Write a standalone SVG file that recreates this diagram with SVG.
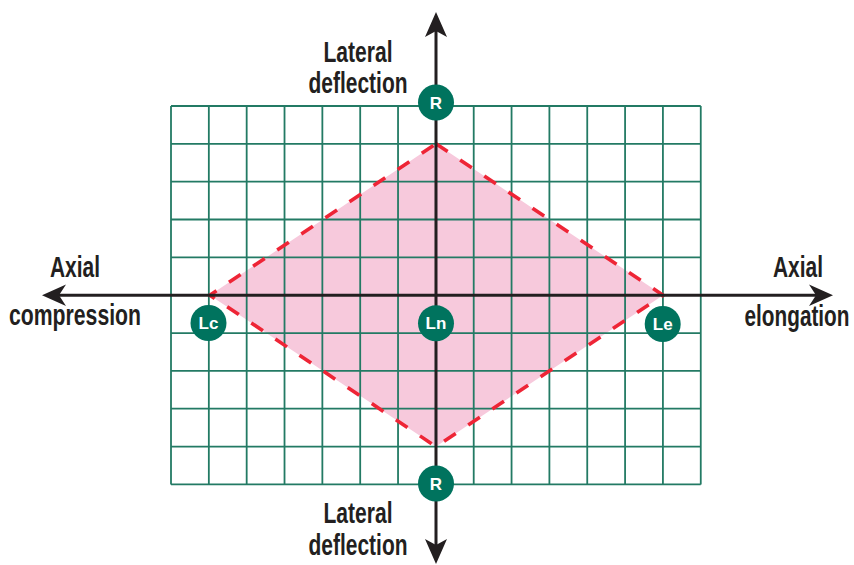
<svg xmlns="http://www.w3.org/2000/svg" width="854" height="565" viewBox="0 0 854 565">
<style>
.grid line{stroke:#237a64;stroke-width:1.8}
.axis{stroke:#231f20;stroke-width:3;fill:none}
.head{fill:#231f20}
.lbl{font-family:"Liberation Sans",Arial,sans-serif;font-weight:bold;font-size:29px;fill:#231f20;text-anchor:middle}
.node circle{fill:#00735e}
.node text{font-family:"Liberation Sans",Arial,sans-serif;font-weight:bold;font-size:17px;fill:#ffffff;text-anchor:middle}
</style>
<rect width="854" height="565" fill="#ffffff"/>
<polygon id="region" points="436,143.8 663,295.2 436,446.6 209.8,295.2" fill="#f7c9dc"/>
<g class="grid" id="grid">
<line x1="171" y1="106" x2="171" y2="484.4"/>
<line x1="208.84" y1="106" x2="208.84" y2="484.4"/>
<line x1="246.68" y1="106" x2="246.68" y2="484.4"/>
<line x1="284.52" y1="106" x2="284.52" y2="484.4"/>
<line x1="322.36" y1="106" x2="322.36" y2="484.4"/>
<line x1="360.2" y1="106" x2="360.2" y2="484.4"/>
<line x1="398.04" y1="106" x2="398.04" y2="484.4"/>
<line x1="435.88" y1="106" x2="435.88" y2="484.4"/>
<line x1="473.72" y1="106" x2="473.72" y2="484.4"/>
<line x1="511.56" y1="106" x2="511.56" y2="484.4"/>
<line x1="549.4" y1="106" x2="549.4" y2="484.4"/>
<line x1="587.24" y1="106" x2="587.24" y2="484.4"/>
<line x1="625.08" y1="106" x2="625.08" y2="484.4"/>
<line x1="662.92" y1="106" x2="662.92" y2="484.4"/>
<line x1="700.76" y1="106" x2="700.76" y2="484.4"/>
<line x1="171" y1="106" x2="700.76" y2="106"/>
<line x1="171" y1="143.84" x2="700.76" y2="143.84"/>
<line x1="171" y1="181.68" x2="700.76" y2="181.68"/>
<line x1="171" y1="219.52" x2="700.76" y2="219.52"/>
<line x1="171" y1="257.36" x2="700.76" y2="257.36"/>
<line x1="171" y1="295.2" x2="700.76" y2="295.2"/>
<line x1="171" y1="333.04" x2="700.76" y2="333.04"/>
<line x1="171" y1="370.88" x2="700.76" y2="370.88"/>
<line x1="171" y1="408.72" x2="700.76" y2="408.72"/>
<line x1="171" y1="446.56" x2="700.76" y2="446.56"/>
<line x1="171" y1="484.4" x2="700.76" y2="484.4"/>
</g>
<polygon id="envelope" points="436,143.8 663,295.2 436,446.6 209.8,295.2" fill="none" stroke="#ee2536" stroke-width="3.6" stroke-dasharray="14,15"/>
<g id="connectors">
<line class="axis" x1="58" y1="295.2" x2="820" y2="295.2"/>
<line class="axis" x1="436" y1="30" x2="436" y2="550"/>
<path class="head" d="M42,295.2 L66,284.5 L59,295.2 L66,306 Z"/>
<path class="head" d="M833,295.2 L809,284.5 L816,295.2 L809,306 Z"/>
<path class="head" d="M436,12 L425,37 L436,31 L447,37 Z"/>
<path class="head" d="M436,564 L425,539 L436,545 L447,539 Z"/>
</g>
<g id="labels">
<text class="lbl" x="358" y="61.5" textLength="69" lengthAdjust="spacingAndGlyphs">Lateral</text>
<text class="lbl" x="358" y="92.5" textLength="99" lengthAdjust="spacingAndGlyphs">deflection</text>
<text class="lbl" x="358" y="523" textLength="69" lengthAdjust="spacingAndGlyphs">Lateral</text>
<text class="lbl" x="358" y="554.5" textLength="99" lengthAdjust="spacingAndGlyphs">deflection</text>
<text class="lbl" x="75" y="276.5" textLength="50" lengthAdjust="spacingAndGlyphs">Axial</text>
<text class="lbl" x="75" y="325" textLength="132" lengthAdjust="spacingAndGlyphs">compression</text>
<text class="lbl" x="798" y="276.5" textLength="50" lengthAdjust="spacingAndGlyphs">Axial</text>
<text class="lbl" x="797" y="326" textLength="105" lengthAdjust="spacingAndGlyphs">elongation</text>
</g>
<g class="node" id="node-R-top"><circle cx="436" cy="102.5" r="18"/><text x="436" y="108.5">R</text></g>
<g class="node" id="node-R-bottom"><circle cx="436" cy="483.5" r="18"/><text x="436" y="489.5">R</text></g>
<g class="node" id="node-Lc"><circle cx="208.5" cy="323" r="18"/><text x="208.5" y="329">Lc</text></g>
<g class="node" id="node-Ln"><circle cx="436" cy="323.3" r="18"/><text x="436" y="329.3">Ln</text></g>
<g class="node" id="node-Le"><circle cx="662.7" cy="324" r="18"/><text x="662.7" y="330">Le</text></g>
</svg>
